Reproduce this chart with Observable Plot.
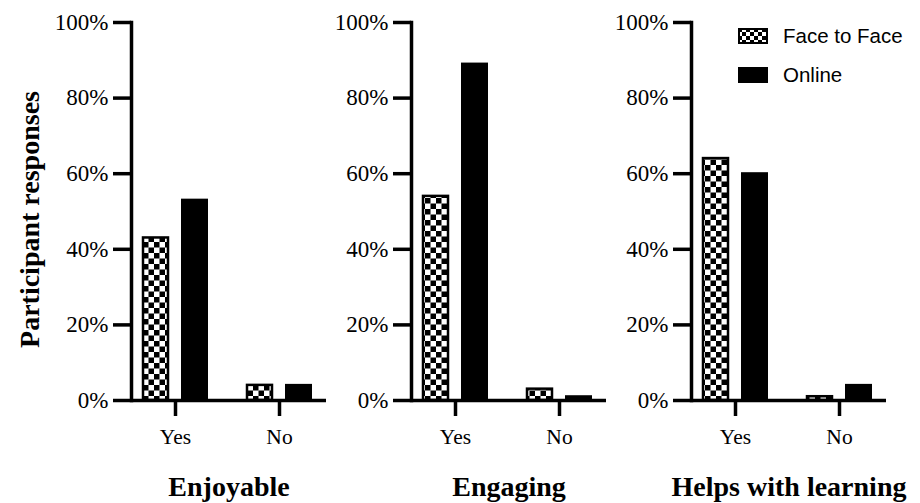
<!DOCTYPE html>
<html>
<head>
<meta charset="utf-8">
<script src="https://cdn.jsdelivr.net/npm/d3@7"></script>
<script src="https://cdn.jsdelivr.net/npm/@observablehq/plot@0.6"></script>
<style>
  html, body { margin: 0; padding: 0; background: white; }
  #wrap { position: relative; width: 920px; height: 503px; overflow: hidden; }
  .panel { position: absolute; top: 0; }
  .panel text { font-family: "Liberation Serif", "Times New Roman", serif !important; }
  #legend { position: absolute; left: 738px; top: 28px; font-family: "Liberation Sans", Arial, sans-serif; font-size: 20.5px; color: #000; }
  .row { display: flex; align-items: center; height: 16px; margin-bottom: 23px; }
  .row svg { margin-right: 15px; }
</style>
</head>
<body>
<svg width="0" height="0" style="position:absolute">
  <defs>
    <pattern id="checker" patternUnits="userSpaceOnUse" width="11" height="11">
      <rect width="11" height="11" fill="white"></rect>
      <rect width="5.5" height="5.5" fill="black"></rect>
      <rect x="5.5" y="5.5" width="5.5" height="5.5" fill="black"></rect>
    </pattern>
    <pattern id="checkerSmall" patternUnits="userSpaceOnUse" width="8" height="8">
      <rect width="8" height="8" fill="white"></rect>
      <rect width="4" height="4" fill="black"></rect>
      <rect x="4" y="4" width="4" height="4" fill="black"></rect>
    </pattern>
  </defs>
</svg>
<div id="wrap">
  <div id="legend">
    <div class="row"><svg width="30" height="16"><rect x="1" y="1" width="28" height="14" fill="url(#checkerSmall)" stroke="black" stroke-width="2"></rect></svg>Face to Face</div>
    <div class="row"><svg width="30" height="16"><rect x="0" y="0" width="30" height="16" fill="black"></rect></svg>Online</div>
  </div>
</div>
<script>
const panels = ["Enjoyable", "Engaging", "Helps with learning"];
const responses = ["Yes", "No"];
const groups = ["Face to Face", "Online"];
const faceToFace = [[43, 4], [54, 3], [64, 1]];
const online = [[53, 4], [89, 1], [60, 4]];
const yTicks = [0, 20, 40, 60, 80, 100];
const yLabel = "Participant responses";

const serif = '"Liberation Serif", "Times New Roman", serif';
const layout = [
  {left: 0, width: 326, marginLeft: 131, marginRight: 0},
  {left: 326, width: 280, marginLeft: 85, marginRight: 0},
  {left: 606, width: 314, marginLeft: 85, marginRight: 34}
];

const wrap = document.getElementById("wrap");
panels.forEach((title, i) => {
  const data = [];
  responses.forEach((r, j) => {
    data.push({response: r, group: groups[0], value: faceToFace[i][j]});
    data.push({response: r, group: groups[1], value: online[i][j]});
  });
  const L = layout[i];
  const marks = [
    Plot.barY(data.filter(d => d.group === groups[0]), {
      x: "response", y: "value", fill: "url(#checker)", stroke: "black", strokeWidth: 2.5,
      insetLeft: 20, insetRight: 59
    }),
    Plot.barY(data.filter(d => d.group === groups[1]), {
      x: "response", y: "value", fill: "black", stroke: "black", strokeWidth: 2,
      insetLeft: 59, insetRight: 20
    }),
    Plot.ruleY([0], {stroke: "black", strokeWidth: 3.5}),
    Plot.frame({anchor: "left", stroke: "black", strokeWidth: 3.5}),
    Plot.axisY({ticks: yTicks, tickFormat: d => d + "%", tickSize: 18, tickPadding: 5, strokeWidth: 3.5, label: null, fontSize: 23, fontFamily: serif}),
    Plot.axisX({tickSize: 16, tickPadding: 12, strokeWidth: 3.5, label: null, fontSize: 21.5, fontFamily: serif}),
    Plot.text([title], {frameAnchor: "bottom", dy: 87, text: d => d, fontSize: 28, fontWeight: "bold", fontFamily: serif, lineAnchor: "middle"})
  ];
  if (i === 0) {
    marks.push(Plot.text([yLabel], {frameAnchor: "left", dx: -101, dy: 8, rotate: -90, text: d => d, fontSize: 28, fontWeight: "bold", fontFamily: serif, textAnchor: "middle"}));
  }
  const chart = Plot.plot({
    width: L.width,
    height: 503,
    marginLeft: L.marginLeft,
    marginRight: L.marginRight,
    marginTop: 22,
    marginBottom: 103,
    x: {type: "band", domain: responses, range: [L.marginLeft - 8, L.marginLeft + 200], padding: 0},
    y: {domain: [0, 100]},
    style: {fontFamily: serif, fontSize: "21px", color: "black", background: "transparent", overflow: "visible"},
    marks
  });
  chart.classList.add("panel");
  chart.style.left = L.left + "px";
  wrap.insertBefore(chart, document.getElementById("legend"));
});
</script>
</body>
</html>
